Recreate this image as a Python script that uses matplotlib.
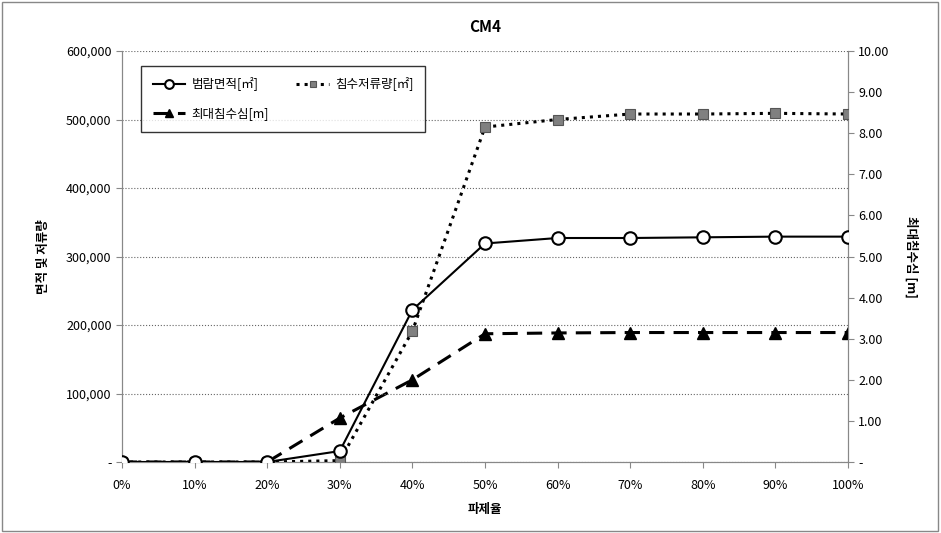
import matplotlib
matplotlib.use("Agg")
import matplotlib.pyplot as plt
from matplotlib.ticker import FuncFormatter
from matplotlib.patches import Rectangle

plt.rcParams['font.family'] = ['Noto Sans CJK KR', 'DejaVu Sans']

categories = ["0%", "10%", "20%", "30%", "40%", "50%", "60%", "70%", "80%", "90%", "100%"]
flood_area = [0, 0, 0, 16000, 222000, 319000, 327000, 327000, 328000, 329000, 329000]
storage = [0, 0, 0, 2000, 191000, 489000, 500000, 508000, 508000, 509000, 508000]
max_depth = [0, 0, 0, 1.07, 2.0, 3.12, 3.14, 3.15, 3.15, 3.15, 3.15]
left_ticks = [0, 100000, 200000, 300000, 400000, 500000, 600000]
right_ticks = [0, 1, 2, 3, 4, 5, 6, 7, 8, 9, 10]

fig = plt.figure(figsize=(9.41, 5.33), dpi=100)
fig.patches.append(Rectangle((0.002, 0.004), 0.995, 0.992, transform=fig.transFigure,
                             fill=False, edgecolor='#888888', lw=1))
ax = fig.add_axes([122/941, 1-462/533, (848-122)/941, (462-51)/533])
ax2 = ax.twinx()

x = list(range(len(categories)))
ax.plot(x, flood_area, '-', color='black', lw=1.5, marker='o', ms=9,
        mfc='white', mec='black', mew=1.5, label='범람면적[㎡]', zorder=4)
ax.plot(x, storage, ':', color='black', lw=2.2, marker='s', ms=7,
        mfc='#808080', mec='#555555', mew=0.8, label='침수저류량[㎡]', zorder=3)
ax2.plot(x, max_depth, '--', color='black', lw=2.2, dashes=(5, 3), marker='^', ms=9,
         mfc='black', mec='black', label='최대침수심[m]', zorder=3)

ax.set_xlim(0, len(categories)-1)
ax.set_ylim(0, 600000)
ax2.set_ylim(0, 10)
ax.set_xticks(x)
ax.set_xticklabels(categories, fontsize=9)
ax.set_yticks(left_ticks)
ax2.set_yticks(right_ticks)
ax.yaxis.set_major_formatter(FuncFormatter(lambda v, p: '-' if v == 0 else f'{int(v):,}'))
ax2.yaxis.set_major_formatter(FuncFormatter(lambda v, p: '-' if v == 0 else f'{v:.2f}'))
ax.tick_params(axis='y', labelsize=9, length=4, direction='out', color='#888888')
ax2.tick_params(axis='y', labelsize=9, length=4, direction='out', color='#888888')
ax.tick_params(axis='x', length=4, direction='out', color='#888888', pad=8)

ax.grid(axis='y', linestyle=':', color='#666666', lw=0.8)
ax.set_axisbelow(True)
for a in (ax, ax2):
    a.spines['top'].set_visible(False)
    a.spines['left'].set_color('#888888')
    a.spines['right'].set_color('#888888')
    a.spines['bottom'].set_color('#888888')

ax.set_title('CM4', fontsize=11, fontweight='bold', pad=14)
ax.set_xlabel('파제율', fontsize=9, fontweight='bold', labelpad=8)
ax.set_ylabel('면적 및 저류량', fontsize=9, fontweight='bold', labelpad=12)
ax2.set_ylabel('최대침수심 [m]', fontsize=9, fontweight='bold', rotation=270, labelpad=20)

h1, l1 = ax.get_legend_handles_labels()
h2, l2 = ax2.get_legend_handles_labels()
handles = [h1[0], h2[0], h1[1]]
labels = [l1[0], l2[0], l1[1]]
leg = ax.legend(handles, labels, ncol=2, loc='upper left', bbox_to_anchor=(0.018, 0.978),
                fontsize=9, frameon=True, fancybox=False, edgecolor='black',
                handlelength=2.6, handletextpad=0.5, columnspacing=2.2,
                labelspacing=1.3, borderpad=0.9, markerscale=0.7)
leg.get_frame().set_linewidth(1)
leg.set_zorder(10)
ax.set_zorder(ax2.get_zorder() + 1)
ax.patch.set_visible(False)

fig.savefig('out.png', dpi=100)
